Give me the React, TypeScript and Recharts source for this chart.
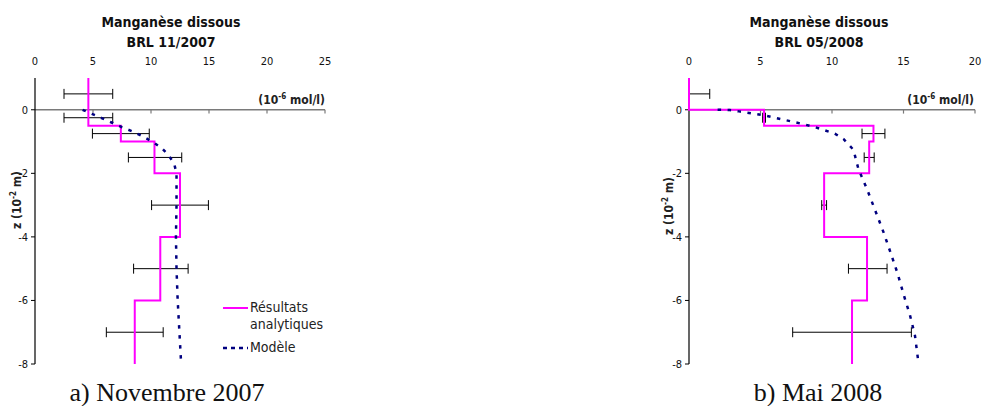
import { ScatterChart, Scatter, XAxis, YAxis, ReferenceLine, ErrorBar } from "recharts";

const FONT = "'DejaVu Sans Condensed', 'DejaVu Sans', sans-serif";

const zTicks = [0, -2, -4, -6, -8];
const xTicksA = [0, 5, 10, 15, 20, 25];
const xTicksB = [0, 5, 10, 15, 20];

// a) Novembre 2007 - measured profile (one value per depth layer)
const layersA = [1, -0.5, -1, -2, -4, -6, -8];
const measuredA = [4.6, 7.4, 10.3, 12.5, 10.8, 8.6];
const errDepthA = [0.5, -0.25, -0.75, -1.5, -3, -5, -7];
const errMeanA = [4.6, 4.6, 7.4, 10.35, 12.5, 10.85, 8.6];
const errLowA = [2.1, 2.1, 2.45, 2.3, 2.45, 2.35, 2.45];
const errHighA = [2.1, 2.1, 2.45, 2.3, 2.45, 2.35, 2.45];
const modelDepthA = [0, -0.13, -0.27, -0.4, -0.55, -0.68, -0.82, -1.0, -1.2, -1.42, -1.7, -2, -3, -4, -5, -6, -7, -8];
const modelA = [4.1, 4.9, 5.8, 6.6, 7.5, 8.4, 9.2, 10.1, 10.9, 11.5, 12.0, 12.2, 12.2, 12.15, 12.2, 12.3, 12.45, 12.6];

// b) Mai 2008
const layersB = [1, 0, -0.5, -1, -2, -4, -6, -8];
const measuredB = [0, 5.25, 12.9, 12.6, 9.45, 12.45, 11.4];
const errDepthB = [0.5, -0.25, -0.75, -1.5, -3, -5, -7];
const errMeanB = [0, 5.25, 12.9, 12.6, 9.45, 12.5, 11.4];
const errLowB = [0, 0.1, 0.8, 0.35, 0.17, 1.35, 4.15];
const errHighB = [1.45, 0.1, 0.8, 0.35, 0.17, 1.35, 4.15];
const modelDepthB = [0, -0.01, -0.05, -0.16, -0.37, -0.53, -0.75, -0.92, -1.26, -1.87, -2.5, -3.2, -3.85, -4.5, -5.17, -5.8, -6.46, -7.1, -7.8, -8];
const modelB = [2.0, 2.85, 3.5, 5.1, 7.2, 8.7, 10.2, 10.8, 11.5, 11.85, 12.45, 13.05, 13.6, 14.1, 14.6, 15.0, 15.45, 15.8, 16.0, 16.05];

type Pt = { x: number; z: number; err?: number[] };

const stepPoints = (layers: number[], vals: number[]): Pt[] =>
  vals.flatMap((v, i) => [{ x: v, z: layers[i] }, { x: v, z: layers[i + 1] }]);

const errPoints = (depth: number[], mean: number[], lo: number[], hi: number[]): Pt[] =>
  depth.map((z, i) => ({ x: mean[i], z, err: [lo[i], hi[i]] }));

const curve = (depth: number[], vals: number[]): Pt[] => depth.map((z, i) => ({ x: vals[i], z }));

const noDot = () => <g />;

const LegendBox = () => (
  <div
    style={{
      position: "absolute",
      left: 222,
      top: 299,
      fontFamily: FONT,
      fontSize: 14,
      color: "#222",
      lineHeight: "17px",
    }}
  >
    <div style={{ display: "flex", alignItems: "flex-start" }}>
      <svg width={28} height={17}>
        <line x1={1} x2={26} y1={9} y2={9} stroke="#ff00ff" strokeWidth={2} />
      </svg>
      <span>
        Résultats
        <br />
        analytiques
      </span>
    </div>
    <div style={{ display: "flex", alignItems: "center", marginTop: 6 }}>
      <svg width={28} height={17}>
        <line x1={1} x2={26} y1={9} y2={9} stroke="#000080" strokeWidth={2.5} strokeDasharray="4 4" />
      </svg>
      <span>Modèle</span>
    </div>
  </div>
);

type ProfileProps = {
  left: number;
  width: number;
  marginLeft: number;
  marginRight: number;
  xMax: number;
  xTicks: number[];
  steps: Pt[];
  errs: Pt[];
  model: Pt[];
};

function Profile(p: ProfileProps) {
  return (
    <div style={{ position: "absolute", left: p.left, top: 0 }}>
      <ScatterChart
        width={p.width}
        height={406}
        margin={{ top: 48, bottom: 42, left: p.marginLeft - 30, right: p.marginRight }}
      >
        <XAxis
          type="number"
          dataKey="x"
          orientation="top"
          domain={[0, p.xMax]}
          ticks={p.xTicks}
          height={30}
          axisLine={false}
          tickLine={false}
          tickSize={0}
          tickMargin={13}
          tick={{ fontSize: 11, fill: "#111", fontFamily: FONT }}
        />
        <YAxis
          type="number"
          dataKey="z"
          domain={[-8, 1]}
          ticks={zTicks}
          width={30}
          axisLine={{ stroke: "#000", strokeWidth: 1.2 }}
          tickLine={{ stroke: "#000" }}
          tickSize={4}
          tickMargin={3}
          tick={{ fontSize: 11, fill: "#111", fontFamily: FONT }}
        />
        <ReferenceLine y={0} stroke="#7a7a7a" strokeWidth={1.5} />
        {p.xTicks
          .filter((v) => v > 0)
          .map((v) => (
            <ReferenceLine
              key={v}
              segment={[
                { x: v, y: 0 },
                { x: v, y: -0.12 },
              ]}
              stroke="#7a7a7a"
              strokeWidth={1.2}
            />
          ))}
        <Scatter
          name="Résultats analytiques"
          data={p.steps}
          line={{ stroke: "#ff00ff", strokeWidth: 2 }}
          shape={noDot}
          isAnimationActive={false}
        />
        <Scatter
          name="Modèle"
          data={p.model}
          line={{ stroke: "#000080", strokeWidth: 2.5, strokeDasharray: "3.5 6.5" }}
          shape={noDot}
          isAnimationActive={false}
        />
        <Scatter data={p.errs} shape={noDot} isAnimationActive={false} legendType="none">
          <ErrorBar dataKey="err" direction="x" width={5} stroke="#000" strokeWidth={1} />
        </Scatter>
      </ScatterChart>
    </div>
  );
}

const Unit = ({ x, y }: { x: number; y: number }) => (
  <text x={x} y={y} textAnchor="end" fontFamily={FONT} fontWeight="bold" fontSize={12} fill="#222">
    (10<tspan dy={-5} fontSize={8}>-6</tspan>
    <tspan dy={5}> mol/l)</tspan>
  </text>
);

const ZLabel = ({ x, y }: { x: number; y: number }) => (
  <text
    x={x}
    y={y}
    transform={`rotate(-90 ${x} ${y})`}
    textAnchor="middle"
    fontFamily={FONT}
    fontWeight="bold"
    fontSize={12}
    fill="#222"
  >
    z (10<tspan dy={-5} fontSize={8}>-2</tspan>
    <tspan dy={5}> m)</tspan>
  </text>
);

const Title = ({ cx, sub }: { cx: number; sub: string }) => (
  <g fontFamily={FONT} fontWeight="bold" fontSize={14} fill="#111" textAnchor="middle">
    <text x={cx} y={27}>Manganèse dissous</text>
    <text x={cx} y={47}>{sub}</text>
  </g>
);

export default function App() {
  return (
    <div style={{ position: "fixed", left: 0, top: 0, width: 983, height: 406, background: "#fff", overflow: "hidden" }}>
      <svg width={983} height={406} style={{ position: "absolute", left: 0, top: 0 }}>
        <Title cx={171} sub="BRL 11/2007" />
        <Title cx={819} sub="BRL 05/2008" />
        <Unit x={325} y={104} />
        <Unit x={974} y={104} />
        <ZLabel x={21} y={200} />
        <ZLabel x={673} y={206} />
        <g fontFamily="'Liberation Serif', 'Times New Roman', serif" fontSize={26} fill="#111" textAnchor="middle">
          <text x={167} y={401}>a) Novembre 2007</text>
          <text x={818} y={401}>b) Mai 2008</text>
        </g>
      </svg>
      <Profile
        left={0}
        width={340}
        marginLeft={35}
        marginRight={15}
        xMax={25}
        xTicks={xTicksA}
        steps={stepPoints(layersA, measuredA)}
        errs={errPoints(errDepthA, errMeanA, errLowA, errHighA)}
        model={curve(modelDepthA, modelA)}
      />
      <Profile
        left={600}
        width={383}
        marginLeft={89}
        marginRight={8}
        xMax={20}
        xTicks={xTicksB}
        steps={stepPoints(layersB, measuredB)}
        errs={errPoints(errDepthB, errMeanB, errLowB, errHighB)}
        model={curve(modelDepthB, modelB)}
      />
      <LegendBox />
    </div>
  );
}
